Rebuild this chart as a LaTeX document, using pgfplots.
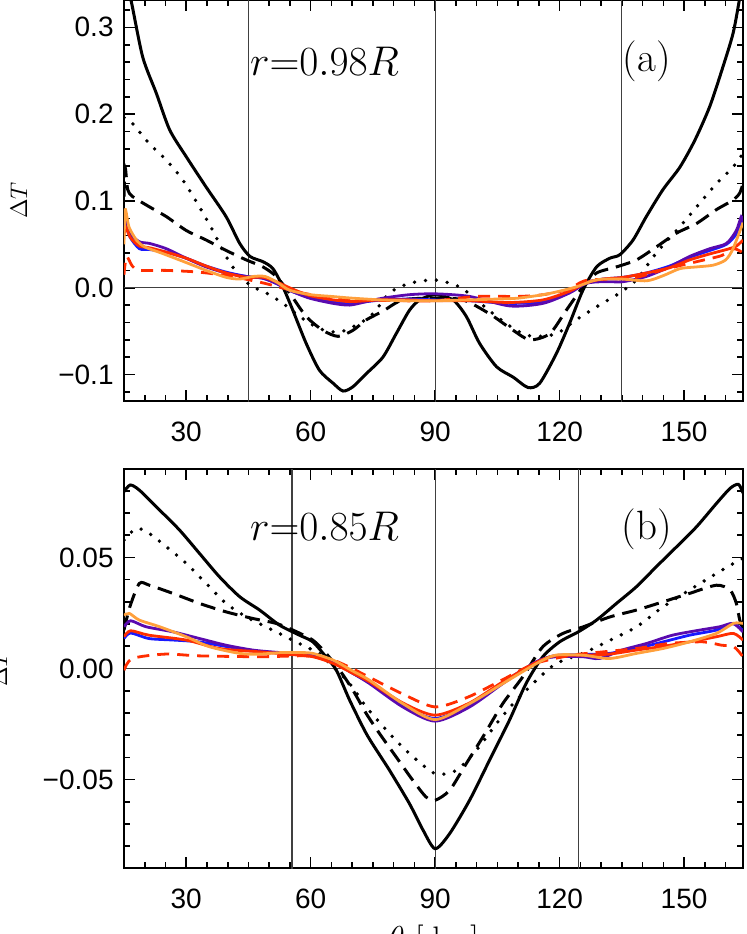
\documentclass[border=0pt]{standalone}
\usepackage{fontspec}
\usepackage{pgfplots}
\pgfplotsset{compat=1.18}
\newfontfamily\ticksf{Liberation Sans}

\definecolor{cblue}{RGB}{25,25,255}
\definecolor{cpurple}{RGB}{90,10,175}
\definecolor{cred}{RGB}{255,45,0}
\definecolor{corange}{RGB}{255,160,60}

\tikzset{annot/.style={font=\fontsize{20.5}{22}\selectfont, inner sep=0pt}}

\pgfplotsset{
  panel/.style={
    scale only axis, width=309.5pt,
    xmin=15, xmax=164.2,
    xtick={30,60,90,120,150}, xticklabels={30,60,90,120,150},
    minor xtick={15,20,...,165},
    scaled ticks=false,
    tick align=inside,
    xticklabel pos=lower, yticklabel pos=left,
    axis line style={line width=1pt},
    major tick length=5.5pt, minor tick length=2.8pt,
    tick style={black, line width=0.8pt},
    xticklabel style={font=\ticksf\fontsize{14}{16}\selectfont, inner sep=0pt, anchor=north, yshift=-10.5pt},
    yticklabel style={font=\ticksf\fontsize{14}{16}\selectfont, inner sep=0pt, anchor=east, xshift=-5pt},
  },
  guide/.style={black!75, line width=0.55pt, forget plot},
  bsolid/.style={black, line width=1.5pt, smooth, tension=0.45},
  bdot/.style={black, line width=1.9pt, line cap=round, dash pattern=on 0pt off 5.5pt, smooth, tension=0.45},
  bdash/.style={black, line width=1.5pt, dash pattern=on 7.5pt off 4pt, smooth, tension=0.45},
  col/.style={#1, line width=1.4pt, smooth, tension=0.45},
  rdash/.style={cred, line width=1.4pt, dash pattern=on 6pt off 4pt, smooth, tension=0.45},
}

\begin{document}
\begin{tikzpicture}
% ---------------- panel (a): r = 0.98R ----------------
\begin{axis}[panel,
  at={(62pt,-200.5pt)}, anchor=south west, height=200.5pt,
  ymin=-0.1305, ymax=0.3315,
  ytick={-0.1,0,0.1,0.2,0.3}, yticklabels={−0.1,0.0,0.1,0.2,0.3},
  minor ytick={-0.12,-0.1,...,0.33},
  ylabel={$\Delta T$},
  every axis y label/.style={at={(axis description cs:-0.1696,0.5)}, rotate=90, anchor=center, font=\fontsize{13}{15}\selectfont},
]
\addplot[guide] coordinates {(45,-0.2)(45,0.4)};
\addplot[guide] coordinates {(90,-0.2)(90,0.4)};
\addplot[guide] coordinates {(135,-0.2)(135,0.4)};
\addplot[guide] coordinates {(15,0)(164.2,0)};

\addplot[bsolid] coordinates {(15,0.36)(16.7,0.331)(19.5,0.266)(22.8,0.224)(26,0.182)(30,0.151)(34.8,0.116)(39.6,0.082)(42.9,0.051)(45.4,0.036)(48.5,0.030)(50.9,0.022)(53.3,0.001)(55.7,-0.026)(58.9,-0.064)(62.1,-0.095)(65.4,-0.110)(67.8,-0.119)(70.2,-0.114)(73.4,-0.099)(77.4,-0.080)(80.6,-0.053)(83.8,-0.026)(86.3,-0.014)(90,-0.008)(94.3,-0.014)(97.5,-0.033)(100.7,-0.064)(104.8,-0.091)(108.8,-0.103)(112.4,-0.115)(115.2,-0.110)(119.2,-0.076)(122.4,-0.041)(125.6,-0.003)(128.9,0.024)(132.1,0.034)(134.5,0.038)(137.7,0.055)(140.9,0.082)(144.9,0.113)(149,0.139)(152.6,0.170)(156.2,0.209)(159.4,0.255)(161.8,0.293)(163.3,0.331)(164.2,0.36)};
\addplot[bdot] coordinates {(15,0.196)(17.1,0.189)(21.1,0.166)(25.2,0.147)(29.2,0.124)(33.2,0.093)(36.4,0.066)(39.6,0.036)(42.9,0.013)(46.1,0.001)(49.3,-0.006)(53.3,-0.018)(57.3,-0.033)(62.1,-0.047)(67,-0.051)(71.8,-0.041)(75,-0.030)(79,-0.006)(83.8,0.005)(90,0.009)(95.9,0.001)(99.9,-0.014)(104.8,-0.033)(109.6,-0.049)(113.6,-0.056)(119.2,-0.053)(124,-0.037)(128.9,-0.022)(134.5,-0.006)(138.5,0.009)(143.3,0.040)(148.2,0.066)(153,0.093)(157.8,0.120)(161.8,0.139)(164.2,0.155)};
\addplot[bdash] coordinates {(15,0.105)(15.3,0.138)(15.9,0.113)(17.1,0.105)(21.2,0.093)(25.2,0.082)(30,0.066)(34.8,0.055)(39.6,0.043)(44.5,0.032)(48.5,0.024)(51.7,0.013)(54.9,-0.006)(58.9,-0.033)(62.9,-0.049)(66.6,-0.056)(70.2,-0.049)(73.4,-0.037)(77.4,-0.027)(82.2,-0.014)(90,-0.012)(96.7,-0.014)(103.1,-0.030)(108.8,-0.049)(112.8,-0.060)(117.6,-0.053)(121.6,-0.026)(125.6,0.001)(128.9,0.017)(133.7,0.024)(138.5,0.032)(143.3,0.047)(148.2,0.063)(153,0.074)(157.8,0.090)(161.8,0.101)(163.4,0.109)(164.2,0.120)};

\addplot[col=cblue] coordinates {(15,0.065)(15.4,0.072)(16.5,0.058)(18.7,0.045)(21.2,0.044)(25.2,0.041)(30,0.034)(34.8,0.025)(39.6,0.018)(44.5,0.013)(48.5,0.011)(51.7,0.005)(54.9,-0.003)(59.7,-0.011)(65.4,-0.016)(69.4,-0.018)(73.4,-0.016)(77.4,-0.014)(83.8,-0.013)(90,-0.014)(98.3,-0.015)(108,-0.018)(116,-0.016)(122.4,-0.005)(126.4,0.006)(130.5,0.010)(135.3,0.012)(140.9,0.017)(146.5,0.025)(151.3,0.035)(156.2,0.043)(160.2,0.050)(162.6,0.062)(164,0.078)(164.2,0.070)};
\addplot[col=cpurple] coordinates {(15,0.070)(15.4,0.078)(16.3,0.063)(18.7,0.053)(21.2,0.051)(25.2,0.045)(30,0.034)(34.8,0.024)(39.6,0.017)(44.5,0.013)(48.5,0.011)(51.7,0.005)(54.9,-0.003)(59.7,-0.012)(65.4,-0.018)(69.4,-0.020)(73.4,-0.016)(77.4,-0.012)(83.8,-0.008)(90,-0.007)(98.3,-0.010)(108,-0.021)(116,-0.018)(122.4,-0.006)(126.4,0.005)(130.5,0.007)(135.3,0.007)(140.9,0.013)(146.5,0.024)(151.3,0.036)(156.2,0.045)(160.2,0.051)(162.6,0.066)(163.8,0.082)(164.2,0.075)};
\addplot[col=cred] coordinates {(15,0.060)(15.4,0.070)(16.5,0.058)(18.7,0.048)(21.2,0.046)(25.2,0.041)(30,0.034)(34.8,0.025)(39.6,0.017)(44.5,0.012)(48.5,0.012)(51.7,0.007)(54.9,0.000)(59.7,-0.009)(65.4,-0.014)(69.4,-0.016)(73.4,-0.015)(77.4,-0.014)(83.8,-0.014)(90,-0.015)(98.3,-0.015)(108,-0.017)(116,-0.014)(122.4,-0.004)(126.4,0.006)(130.5,0.010)(135.3,0.012)(140.9,0.017)(146.5,0.023)(151.3,0.032)(156.2,0.039)(160.2,0.044)(162.6,0.048)(164.2,0.055)};
\addplot[rdash] coordinates {(15,0.015)(15.6,0.036)(17,0.025)(18.7,0.020)(25,0.020)(33,0.018)(41,0.013)(49,0.005)(57,-0.005)(65,-0.012)(73,-0.014)(82,-0.015)(90,-0.015)(100,-0.010)(110,-0.010)(116,-0.008)(122,-0.002)(126,0.008)(132,0.010)(138.5,0.012)(146,0.022)(153,0.030)(159,0.037)(162,0.045)(164.2,0.040)};
\addplot[col=corange] coordinates {(15,0.050)(15.3,0.090)(16.2,0.070)(18,0.055)(20,0.047)(24,0.040)(30,0.029)(34.8,0.020)(39.6,0.012)(42.9,0.010)(46.1,0.013)(49,0.013)(52,0.006)(55,-0.003)(60,-0.008)(65,-0.010)(70,-0.012)(77,-0.014)(84,-0.015)(90,-0.015)(98,-0.014)(105,-0.013)(110,-0.012)(116,-0.008)(120,-0.004)(124,0.001)(128,0.008)(130.5,0.010)(135,0.010)(141,0.008)(145,0.014)(149,0.022)(153,0.024)(157,0.026)(160,0.032)(161.8,0.045)(164.2,0.075)};

\node[annot, anchor=west] at (axis cs:45.3,0.261) {$r{=}0.98R$};
\node[annot] at (axis cs:141,0.261) {(a)};
\end{axis}

% ---------------- panel (b): r = 0.85R ----------------
\begin{axis}[panel,
  at={(62pt,-434pt)}, anchor=south west, height=199.5pt,
  ymin=-0.0898, ymax=0.0898,
  ytick={-0.05,0,0.05}, yticklabels={−0.05,0.00,0.05},
  minor ytick={-0.09,-0.08,...,0.091},
  ylabel={$\Delta T$},
  every axis y label/.style={at={(axis description cs:-0.2019,0.5)}, rotate=90, anchor=center, font=\fontsize{13}{15}\selectfont},
  xlabel={$\theta$ [deg]},
  every axis x label/.style={at={(axis description cs:0.5,-0.1429)}, anchor=north, inner sep=0pt, font=\fontsize{17}{19}\selectfont},
]
\addplot[guide] coordinates {(55.5,-0.2)(55.5,0.2)};
\addplot[guide] coordinates {(90,-0.2)(90,0.2)};
\addplot[guide] coordinates {(124.5,-0.2)(124.5,0.2)};
\addplot[guide] coordinates {(15,0)(164.2,0)};

\addplot[bsolid] coordinates {(15,0.0796)(16.5,0.0826)(18.7,0.0803)(23.6,0.0713)(28.4,0.0623)(33.2,0.0518)(38,0.0413)(42.9,0.0323)(47.7,0.0263)(52.5,0.0195)(57.3,0.0150)(60.5,0.0120)(63.7,0.0052)(66.2,-0.0008)(69.4,-0.0143)(73.4,-0.0293)(77,-0.0400)(79,-0.0458)(83.8,-0.0608)(87.1,-0.0728)(90,-0.0811)(93.5,-0.0743)(98.3,-0.0593)(103.1,-0.0413)(107.9,-0.0233)(111.9,-0.0068)(115.9,0.0052)(120,0.0120)(124.5,0.0165)(128.9,0.0218)(133.7,0.0293)(138.5,0.0368)(143.3,0.0458)(148.2,0.0548)(153,0.0638)(157.8,0.0743)(161.1,0.0811)(163.1,0.0829)(164.2,0.0790)};
\addplot[bdot] coordinates {(15,0.0578)(18,0.0631)(21.1,0.0608)(25.2,0.0548)(30,0.0473)(34.8,0.0383)(39.6,0.0293)(44.5,0.0232)(49.3,0.0187)(54.1,0.0142)(58.9,0.0097)(62.1,0.0068)(65.4,0.0007)(69.4,-0.0068)(73.4,-0.0173)(79,-0.0293)(83.8,-0.0383)(90,-0.0473)(95.1,-0.0458)(99.9,-0.0368)(104.8,-0.0248)(108.8,-0.0158)(114.4,-0.0053)(119.2,0.0023)(125.6,0.0068)(132.1,0.0127)(138.5,0.0187)(144.9,0.0277)(151.3,0.0353)(157.8,0.0428)(162.6,0.0480)(164.2,0.0495)};
\addplot[bdash] coordinates {(15,0.0173)(16.4,0.0277)(18.7,0.0383)(21.1,0.0375)(26.8,0.0338)(33.2,0.0293)(39.6,0.0255)(46.1,0.0225)(51.7,0.0203)(55.7,0.0173)(60.5,0.0128)(63.7,0.0068)(67,-0.0008)(70.2,-0.0098)(73.4,-0.0203)(76.6,-0.0293)(80.6,-0.0398)(84.6,-0.0503)(87.8,-0.0578)(90,-0.0593)(93.5,-0.0548)(97.5,-0.0428)(101.5,-0.0308)(106.3,-0.0158)(111.1,-0.0038)(115.9,0.0097)(120.8,0.0158)(125.6,0.0187)(132.1,0.0232)(138.5,0.0263)(144.9,0.0300)(151.3,0.0338)(157.8,0.0375)(161.1,0.0353)(162.6,0.0293)(163.4,0.0220)(164.2,0.0180)};

\addplot[col=cblue] coordinates {(15,0.0135)(16.6,0.0160)(21,0.0135)(27,0.0128)(33,0.0120)(40,0.0098)(47.7,0.0075)(57,0.0070)(61,0.0062)(65.4,0.0030)(70,-0.0020)(74.2,-0.0065)(82.2,-0.0168)(90,-0.0225)(98.3,-0.0165)(106.3,-0.0063)(114.4,0.0030)(119,0.0058)(125.6,0.0063)(132,0.0068)(138.5,0.0090)(145,0.0120)(151.3,0.0150)(157.8,0.0173)(161.8,0.0203)(164.2,0.0170)};
\addplot[col=cpurple] coordinates {(15,0.0188)(16.6,0.0215)(20.3,0.0188)(26.8,0.0165)(33.2,0.0135)(39.6,0.0105)(46.1,0.0083)(52.5,0.0072)(60.5,0.0065)(65.4,0.0030)(70,-0.0020)(74.2,-0.0068)(82.2,-0.0173)(90,-0.0237)(98.3,-0.0173)(106.3,-0.0068)(114.4,0.0030)(119,0.0053)(125.6,0.0053)(129.6,0.0045)(135,0.0083)(141,0.0113)(147.2,0.0150)(153.8,0.0173)(158.6,0.0188)(161.8,0.0203)(164.2,0.0165)};
\addplot[col=cred] coordinates {(15,0.0143)(16.6,0.0170)(21,0.0150)(30,0.0128)(38,0.0090)(47.7,0.0075)(54,0.0065)(60.5,0.0053)(65.4,0.0023)(70,-0.0020)(74.2,-0.0060)(82.2,-0.0155)(90,-0.0210)(98.3,-0.0155)(106.3,-0.0060)(114.4,0.0028)(119,0.0058)(125.6,0.0060)(132,0.0065)(138.5,0.0083)(145,0.0100)(151.3,0.0120)(157.8,0.0143)(161.9,0.0158)(164.2,0.0128)};
\addplot[rdash] coordinates {(15,-0.0008)(17,0.0045)(25,0.0065)(33,0.0057)(47.7,0.0053)(57,0.0057)(60.5,0.0055)(65.4,0.0038)(70,0.0000)(74,-0.0038)(82,-0.0113)(90,-0.0173)(98,-0.0128)(106,-0.0053)(114,0.0022)(123,0.0060)(130.5,0.0075)(138.5,0.0090)(146.5,0.0113)(154.6,0.0120)(159,0.0105)(162,0.0098)(164.2,0.0053)};
\addplot[col=corange] coordinates {(15,0.0240)(16.3,0.0248)(18.7,0.0218)(23.6,0.0188)(30,0.0143)(35.6,0.0098)(42.9,0.0068)(47.7,0.0065)(53,0.0072)(57,0.0072)(60.5,0.0068)(65.4,0.0038)(70,-0.0010)(74.2,-0.0053)(82.2,-0.0158)(90,-0.0230)(98.3,-0.0158)(106.3,-0.0068)(114.4,0.0022)(119,0.0060)(125.6,0.0060)(132,0.0045)(138.5,0.0068)(144.9,0.0090)(151.3,0.0120)(157.8,0.0158)(161.9,0.0203)(164.2,0.0203)};

\node[annot, anchor=west] at (axis cs:45.3,0.0638) {$r{=}0.85R$};
\node[annot] at (axis cs:141,0.0628) {(b)};
\end{axis}

\pgfresetboundingbox
\useasboundingbox (0,0) rectangle (373.5pt,-467pt);
\end{tikzpicture}
\end{document}
